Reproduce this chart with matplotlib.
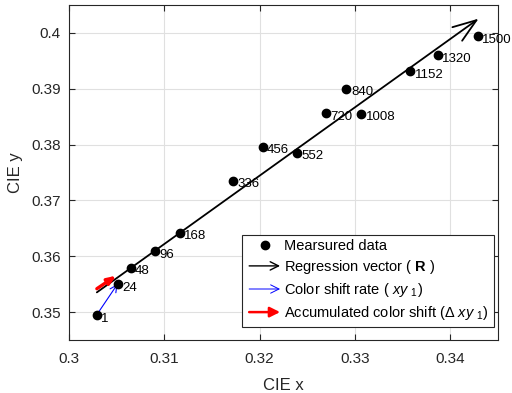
import matplotlib
matplotlib.use("Agg")
import matplotlib.pyplot as plt
from matplotlib.patches import FancyArrowPatch
from matplotlib.legend_handler import HandlerBase
from matplotlib.lines import Line2D

plt.rcParams['font.family'] = ['Liberation Sans', 'DejaVu Sans']
plt.rcParams['mathtext.fontset'] = 'custom'
plt.rcParams['mathtext.rm'] = 'Liberation Sans'
plt.rcParams['mathtext.it'] = 'Liberation Sans:italic'
plt.rcParams['mathtext.bf'] = 'Liberation Sans:bold'

labels = ["1", "24", "48", "96", "168", "336", "456", "552", "720", "840", "1008", "1152", "1320", "1500"]
cie_x = [0.30289, 0.30509, 0.30645, 0.30897, 0.31160, 0.31716, 0.32031, 0.32387,
         0.32699, 0.32910, 0.33066, 0.33580, 0.33870, 0.34290]
cie_y = [0.34946, 0.35502, 0.35789, 0.36093, 0.36416, 0.37348, 0.37957, 0.37849,
         0.38561, 0.39000, 0.38548, 0.39314, 0.39600, 0.39937]

reg_start = (0.30292, 0.35353)
reg_end = (0.34297, 0.40256)
acc_start = (0.30292, 0.35418)
acc_end = (0.30495, 0.35652)

fig = plt.figure(figsize=(5.12, 3.93), dpi=100)
ax = fig.add_axes([0.1348, 0.1349, 0.8379, 0.8524])
ax.set_xlim(0.3, 0.345)
ax.set_ylim(0.345, 0.405)
ax.set_xticks([0.3, 0.31, 0.32, 0.33, 0.34])
ax.set_xticklabels(["0.3", "0.31", "0.32", "0.33", "0.34"])
ax.set_yticks([0.35, 0.36, 0.37, 0.38, 0.39, 0.4])
ax.set_yticklabels(["0.35", "0.36", "0.37", "0.38", "0.39", "0.4"])
ax.grid(True, color='#e0e0e0', linewidth=0.8)
ax.set_axisbelow(True)
ax.tick_params(direction='in', top=True, right=True, length=4, labelsize=11,
               colors='#262626')
ax.tick_params(axis='x', pad=9)
ax.tick_params(axis='y', pad=6)
for s in ax.spines.values():
    s.set_color('#262626')
    s.set_linewidth(0.8)
ax.set_xlabel("CIE x", fontsize=12, color='#262626', labelpad=8)
ax.set_ylabel("CIE y", fontsize=12, color='#262626', labelpad=6)

# regression arrow
ax.annotate("", xy=reg_end, xytext=reg_start,
            arrowprops=dict(arrowstyle='->,head_length=1.7,head_width=0.6', color='black', lw=1.3,
                            shrinkA=0, shrinkB=0), zorder=3)
# accumulated arrow
ax.annotate("", xy=acc_end, xytext=acc_start,
            arrowprops=dict(arrowstyle='-|>,head_length=0.5,head_width=0.2', color='red', lw=2.4,
                            shrinkA=0, shrinkB=0), zorder=3)
# color shift rate arrow
ax.annotate("", xy=(cie_x[1], cie_y[1]), xytext=(cie_x[0], cie_y[0]),
            arrowprops=dict(arrowstyle='->,head_length=0.5,head_width=0.25', color='blue', lw=0.8,
                            shrinkA=0, shrinkB=0), zorder=3)

ax.plot(cie_x, cie_y, 'o', color='black', markersize=6, zorder=4)
for xv, yv, t in zip(cie_x, cie_y, labels):
    ax.annotate(t, (xv, yv), xytext=(3.2, -2.5), textcoords='offset points',
                ha='left', va='center', fontsize=9.5, color='black', zorder=5)


class ArrowHandler(HandlerBase):
    def __init__(self, color, lw, style):
        super().__init__()
        self.color = color
        self.lw = lw
        self.style = style

    def create_artists(self, legend, orig_handle, xdescent, ydescent, width, height, fontsize, trans):
        y = height / 2 - ydescent
        p = FancyArrowPatch((-xdescent, y), (-xdescent + width, y), arrowstyle=self.style,
                            color=self.color, lw=self.lw, mutation_scale=10, transform=trans)
        return [p]


h_pt = Line2D([], [], marker='o', color='black', linestyle='none', markersize=6)
h_reg = Line2D([], [])
h_rate = Line2D([], [])
h_acc = Line2D([], [])
leg = ax.legend([h_pt, h_reg, h_rate, h_acc],
                ["Mearsured data", r"Regression vector ( $\mathbf{R}$ )",
                 r"Color shift rate ( $\it{xy}$ $_{1}$)",
                 r"Accumulated color shift ($\Delta$ $\it{xy}$ $_{1}$)"],
                handler_map={h_reg: ArrowHandler('black', 1.0, '->,head_length=0.6,head_width=0.3'),
                             h_rate: ArrowHandler('blue', 0.7, '->,head_length=0.6,head_width=0.3'),
                             h_acc: ArrowHandler('red', 1.8, '-|>,head_length=0.6,head_width=0.3')},
                loc='lower right', bbox_to_anchor=(0.9895, 0.04), fontsize=10.5,
                frameon=True, fancybox=False, edgecolor='#262626', framealpha=1,
                handlelength=2.5, handletextpad=0.1, borderpad=0.3, labelspacing=0.35,
                borderaxespad=0)
leg.get_frame().set_linewidth(0.8)

fig.savefig("out.png", dpi=100)
